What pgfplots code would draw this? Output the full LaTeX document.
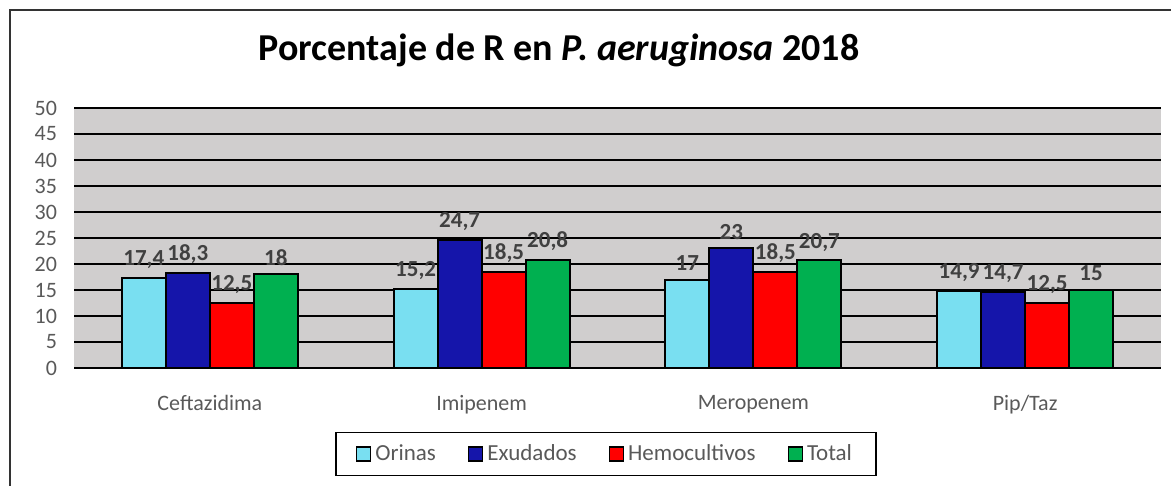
\documentclass[border=0pt]{standalone}
\usepackage{fontspec}
\setmainfont{Carlito}
\usepackage{pgfplots}
\pgfplotsset{compat=1.18}
\definecolor{plotbg}{HTML}{D0CECE}
\definecolor{txtgray}{HTML}{595959}
\definecolor{lblgray}{HTML}{404040}
\definecolor{orinas}{HTML}{79DFF1}
\definecolor{exudados}{HTML}{1515AA}
\definecolor{hemo}{HTML}{FF0000}
\definecolor{total}{HTML}{00B050}

\begin{document}
\begin{tikzpicture}
\useasboundingbox (0,0) rectangle (585.5pt,243pt);
\draw[line width=1pt, black!80] (5pt,0) -- (5pt,238pt) -- (585.5pt,238pt);
\node[font=\fontsize{19}{21}\selectfont\bfseries] at (279.5pt,218pt)
  {Porcentaje de R en \textit{P. aeruginosa} 2018};
\begin{axis}[
  at={(37pt,59pt)}, anchor=south west,
  scale only axis, width=543.5pt, height=130pt,
  ybar=0pt, bar width=22pt,
  xmin=-0.5, xmax=3.5, ymin=0, ymax=50,
  xtick=data,
  xticklabels={Ceftazidima, Imipenem, Meropenem, Pip/Taz},
  ytick={0,5,...,50},
  axis background/.style={fill=plotbg},
  axis line style={draw=none},
  major tick length=0pt,
  ymajorgrids=true,
  grid style={black, line width=0.7pt},
  tick label style={font=\fontsize{11}{12}\selectfont, text=txtgray},
  /pgf/number format/assume math mode=true,
  xticklabel style={yshift=-10pt},
  yticklabel style={xshift=-5pt},
  nodes near coords,
  nodes near coords style={font=\fontsize{11.5}{12}\selectfont\bfseries, text=lblgray, inner sep=4pt},
  /pgf/number format/use comma,
  legend columns=4,
  legend style={at={(0.4894,-0.3308)}, anchor=center, draw=black, line width=0.8pt,
    font=\fontsize{11.5}{12}\selectfont, text=txtgray,
    inner xsep=10pt, inner ysep=4pt,
    /tikz/every even column/.append style={column sep=14pt}},
  legend image code/.code={\draw[#1, line width=0.7pt] (0pt,-3.5pt) rectangle (7pt,3.5pt);},
]
  \addplot[fill=orinas, draw=black, line width=1pt]
    coordinates {(0,17.4)(1,15.2)(2,17)(3,14.9)};
  \addlegendentry{Orinas}
  \addplot[fill=exudados, draw=black, line width=1pt]
    coordinates {(0,18.3)(1,24.7)(2,23)(3,14.7)};
  \addlegendentry{Exudados}
  \addplot[fill=hemo, draw=black, line width=1pt]
    coordinates {(0,12.5)(1,18.5)(2,18.5)(3,12.5)};
  \addlegendentry{Hemocultivos}
  \addplot[fill=total, draw=black, line width=1pt]
    coordinates {(0,18)(1,20.8)(2,20.7)(3,15)};
  \addlegendentry{Total}
\end{axis}
\end{tikzpicture}
\end{document}
